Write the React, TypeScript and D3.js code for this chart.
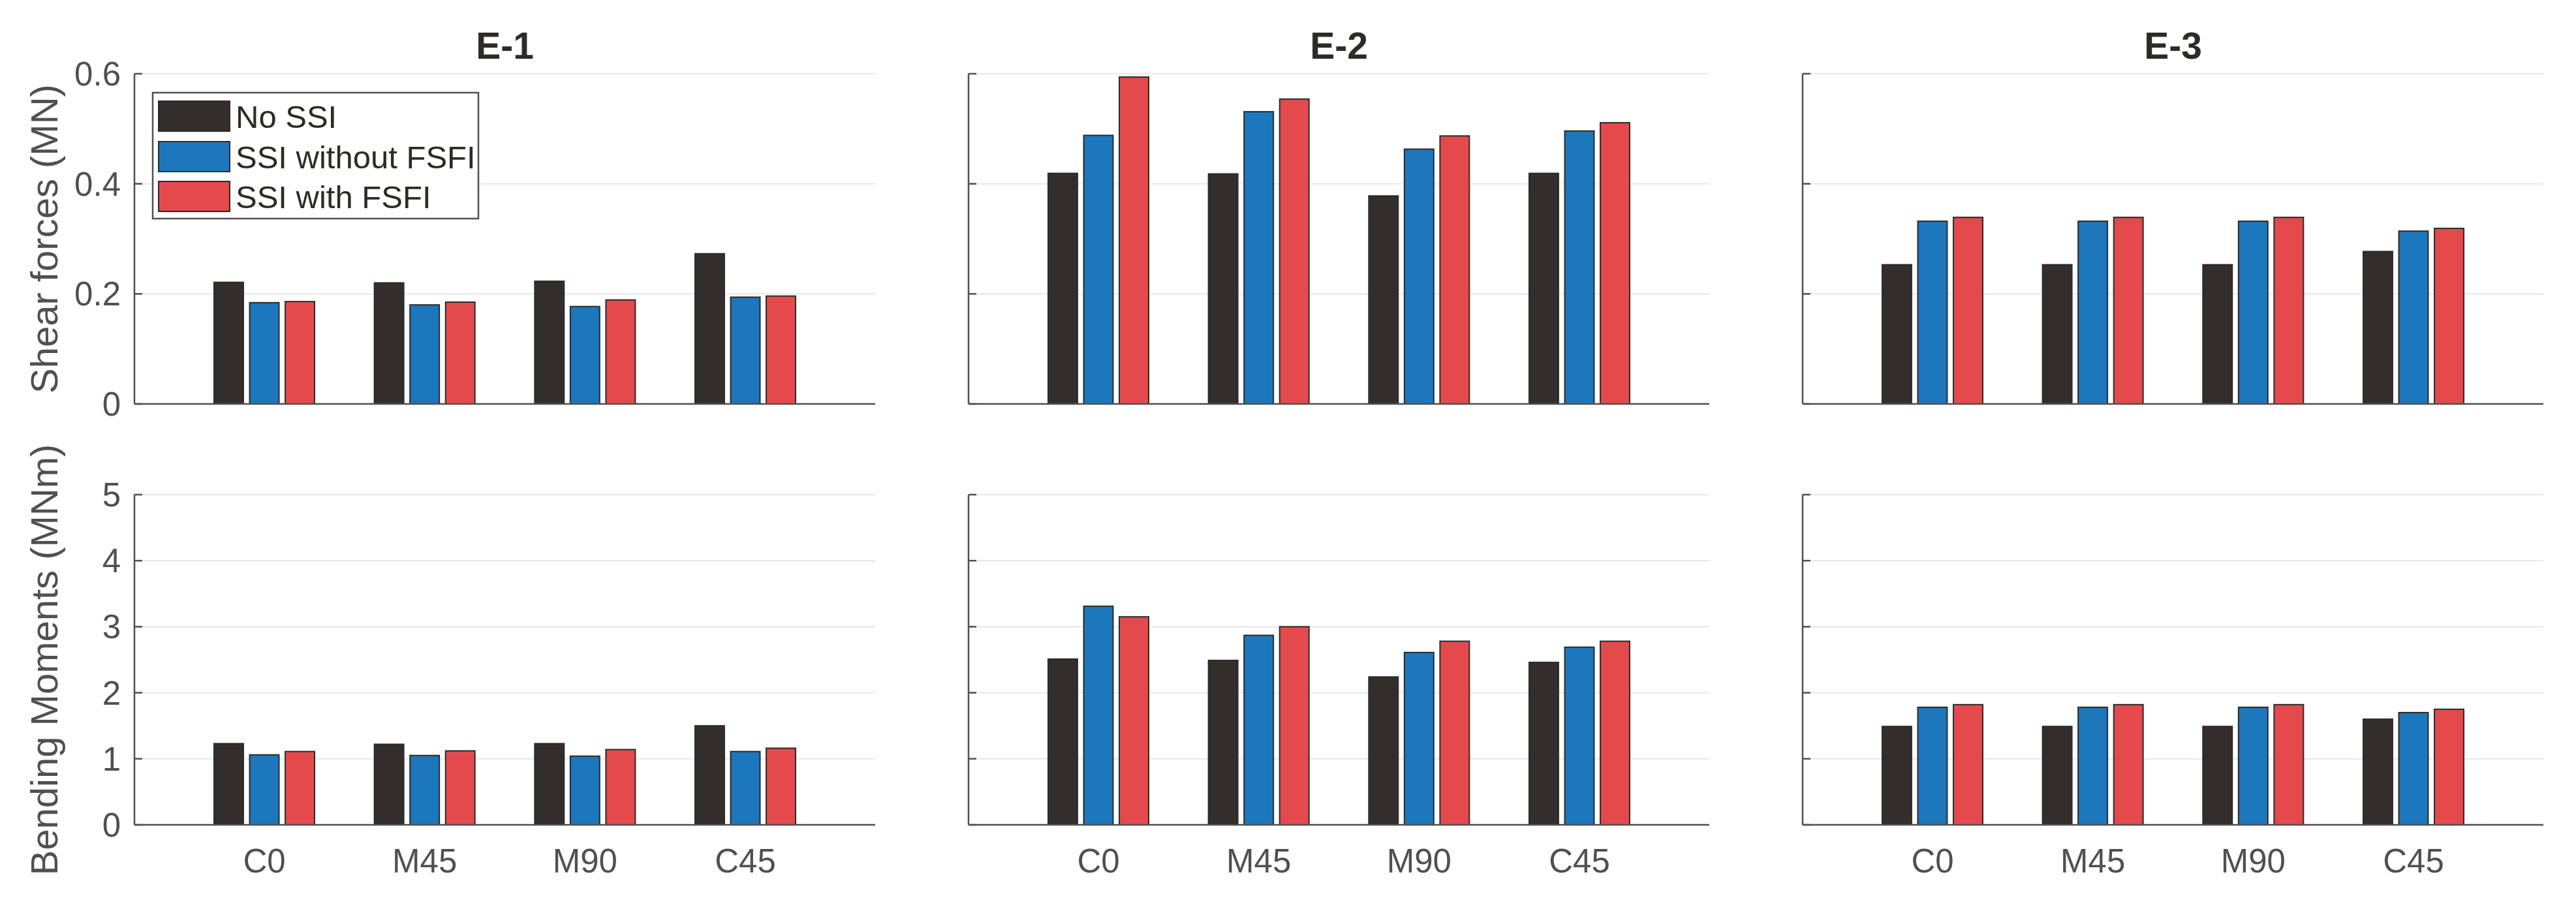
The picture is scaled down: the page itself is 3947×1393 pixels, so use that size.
import * as d3 from 'd3';
import * as React from 'react';

// categories and series
const categories = ['C0', 'M45', 'M90', 'C45'];
const seriesNames = ['No SSI', 'SSI without FSFI', 'SSI with FSFI'];
const seriesColors = ['#332e2b', '#1c77bc', '#e44a4c'];
const panelTitles = ['E-1', 'E-2', 'E-3'];

// shear forces (MN): one row per series, one value per category
const shearE1 = [
  [0.221, 0.220, 0.223, 0.273],
  [0.184, 0.180, 0.177, 0.194],
  [0.186, 0.185, 0.189, 0.196],
];
const shearE2 = [
  [0.419, 0.418, 0.378, 0.419],
  [0.488, 0.531, 0.463, 0.496],
  [0.594, 0.554, 0.487, 0.511],
];
const shearE3 = [
  [0.253, 0.253, 0.253, 0.277],
  [0.332, 0.332, 0.332, 0.314],
  [0.339, 0.339, 0.339, 0.319],
];

// bending moments (MNm)
const momentE1 = [
  [1.23, 1.22, 1.23, 1.50],
  [1.06, 1.05, 1.04, 1.11],
  [1.11, 1.12, 1.14, 1.16],
];
const momentE2 = [
  [2.51, 2.49, 2.24, 2.46],
  [3.31, 2.87, 2.61, 2.69],
  [3.15, 3.00, 2.78, 2.78],
];
const momentE3 = [
  [1.49, 1.49, 1.49, 1.60],
  [1.78, 1.78, 1.78, 1.70],
  [1.82, 1.82, 1.82, 1.75],
];

const shearTicks = [0, 0.2, 0.4, 0.6];
const momentTicks = [0, 1, 2, 3, 4, 5];

const rows = [
  { label: 'Shear forces (MN)', max: 0.6, ticks: shearTicks, fmt: d3.format('~g'), data: [shearE1, shearE2, shearE3] },
  { label: 'Bending Moments (MNm)', max: 5, ticks: momentTicks, fmt: d3.format('d'), data: [momentE1, momentE2, momentE3] },
];

const W = 3947;
const H = 1393;
const FONT = '"Liberation Sans", Arial, Helvetica, sans-serif';
const AXIS = '#505050';
const GRID = '#ebebeb';
const TEXT = '#2e2a27';

const panelLeft0 = 206;
const panelStep = 1278;
const panelWidth = 1135;
const rowTop = [113, 758];
const plotHeight = 506;

const barOffset = 0.222;
const barWidth = 0.183;

function Panel({ row, col }: { row: number; col: number }) {
  const r = rows[row];
  const left = panelLeft0 + col * panelStep;
  const top = rowTop[row];
  const x = d3.scaleLinear().domain([0.19, 4.81]).range([left, left + panelWidth]);
  const y = d3.scaleLinear().domain([0, r.max]).range([top + plotHeight, top]);
  const data = r.data[col];
  const bw = x(barWidth) - x(0);

  return (
    <g>
      {r.ticks.map((t) => (
        <line key={'g' + t} x1={left} x2={left + panelWidth} y1={y(t)} y2={y(t)} stroke={GRID} strokeWidth={2.5} />
      ))}
      {data.map((vals, s) =>
        vals.map((v, c) => {
          const cx = x(c + 1 + (s - 1) * barOffset);
          return (
            <rect
              key={`b${s}-${c}`}
              x={cx - bw / 2}
              y={y(v)}
              width={bw}
              height={y(0) - y(v)}
              fill={seriesColors[s]}
              stroke="#2b2b2b"
              strokeWidth={2}
            />
          );
        })
      )}
      <line x1={left} x2={left} y1={top} y2={y(0)} stroke={AXIS} strokeWidth={2.5} />
      <line x1={left} x2={left + panelWidth} y1={y(0)} y2={y(0)} stroke={AXIS} strokeWidth={2.5} />
      {r.ticks.map((t) => (
        <line key={'t' + t} x1={left} x2={left + 12} y1={y(t)} y2={y(t)} stroke={AXIS} strokeWidth={2.5} />
      ))}
      {col === 0 &&
        r.ticks.map((t) => (
          <text
            key={'l' + t}
            x={left - 21}
            y={y(t) + 18}
            textAnchor="end"
            fontFamily={FONT}
            fontSize={51}
            fill={AXIS}
          >
            {r.fmt(t)}
          </text>
        ))}
      {row === 1 &&
        categories.map((cat, c) => (
          <text
            key={'c' + cat}
            x={x(c + 1)}
            y={1337}
            textAnchor="middle"
            fontFamily={FONT}
            fontSize={51}
            fill={AXIS}
          >
            {cat}
          </text>
        ))}
      {row === 0 && (
        <text
          x={left + panelWidth / 2}
          y={90}
          textAnchor="middle"
          fontFamily={FONT}
          fontWeight="bold"
          fontSize={57}
          fill={TEXT}
        >
          {panelTitles[col]}
        </text>
      )}
      {col === 0 && (
        <text
          transform={`translate(88,${top + plotHeight / 2}) rotate(-90)`}
          textAnchor="middle"
          fontFamily={FONT}
          fontSize={58}
          fill={AXIS}
        >
          {r.label}
        </text>
      )}
    </g>
  );
}

function Legend() {
  const lx = 234;
  const ly = 142;
  const rowY = [155, 217, 278];
  return (
    <g>
      <rect x={lx} y={ly} width={499} height={193} fill="#ffffff" stroke={AXIS} strokeWidth={2.5} />
      {seriesNames.map((name, i) => (
        <g key={name}>
          <rect x={243} y={rowY[i]} width={109} height={46} fill={seriesColors[i]} stroke="#2b2b2b" strokeWidth={2} />
          <text x={361} y={rowY[i] + 23 + 18} fontFamily={FONT} fontSize={49} fill={TEXT}>
            {name}
          </text>
        </g>
      ))}
    </g>
  );
}

export default function App() {
  return (
    <div style={{ position: 'absolute', left: 0, top: 0 }}>
      <svg width={W} height={H} viewBox={`0 0 ${W} ${H}`} style={{ display: 'block', background: '#ffffff' }}>
        {rows.map((_, ri) => [0, 1, 2].map((ci) => <Panel key={`${ri}-${ci}`} row={ri} col={ci} />))}
        <Legend />
      </svg>
    </div>
  );
}
